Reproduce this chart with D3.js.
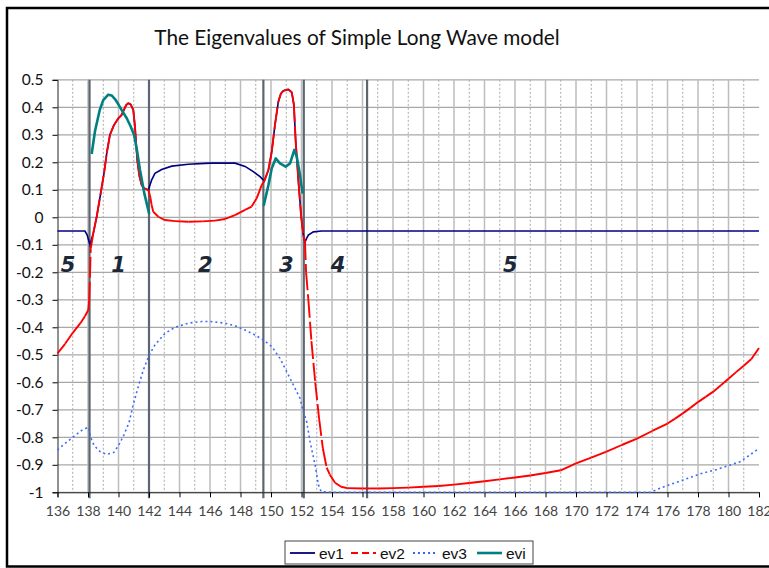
<!DOCTYPE html>
<html>
<head>
<meta charset="utf-8">
<script src="https://cdn.jsdelivr.net/npm/d3@7"></script>
<style>
  body { margin: 0; background: #fff; }
  .tick text { font-family: Lato, "DejaVu Sans", sans-serif; }
</style>
</head>
<body>
<div id="chart"></div>
<script>
// series: [time, eigenvalue]
var ev1 = [[136,-0.05],[137.8,-0.05],[137.95,-0.065],[138.05,-0.085],[138.13,-0.10],
  [138.35,-0.057],[138.57,0.002],[138.83,0.087],[139.05,0.16],[139.23,0.233],[139.44,0.30],[139.7,0.335],[139.99,0.36],[140.2,0.372],[140.5,0.408],[140.64,0.415],[140.8,0.411],[140.97,0.39],[141.08,0.33],[141.23,0.208],[141.37,0.15],[141.52,0.117],[141.7,0.105],[141.96,0.099],
  [142.08,0.12],[142.17,0.135],[142.39,0.16],[142.83,0.174],[143.49,0.186],[144.58,0.193],[146.02,0.197],[147.64,0.197],[148.3,0.185],[148.84,0.166],[149.28,0.148],[149.56,0.132],
  [149.83,0.172],[150.05,0.239],[150.26,0.336],[150.48,0.42],[150.65,0.45],[150.81,0.46],[151.14,0.465],[151.36,0.455],[151.5,0.41],[151.62,0.275],[151.8,0.13],[151.97,0.008],[152.12,-0.065],[152.23,-0.09],
  [152.35,-0.075],[152.45,-0.065],[152.78,-0.053],[153.32,-0.05],[182,-0.05]];

var ev2 = [[136,-0.495],[136.5,-0.46],[137,-0.42],[137.5,-0.385],[137.8,-0.36],[138.02,-0.337],[138.08,-0.3],[138.13,-0.21],[138.18,-0.113],
  [138.35,-0.057],[138.57,0.002],[138.83,0.087],[139.05,0.16],[139.23,0.233],[139.44,0.30],[139.7,0.335],[139.99,0.36],[140.2,0.372],[140.5,0.408],[140.64,0.415],[140.8,0.411],[140.97,0.39],[141.08,0.33],[141.23,0.208],[141.37,0.15],[141.52,0.117],[141.7,0.105],[141.96,0.099],
  [142.1,0.07],[142.17,0.045],[142.28,0.02],[142.61,0.002],[143.05,-0.01],[143.7,-0.014],[144.58,-0.016],[145.5,-0.015],[146.33,-0.012],[146.99,-0.006],[147.64,0.008],[148.3,0.027],[148.73,0.039],[149.06,0.069],[149.39,0.117],[149.56,0.132],
  [149.83,0.172],[150.05,0.239],[150.26,0.336],[150.48,0.42],[150.65,0.45],[150.81,0.46],[151.14,0.465],[151.36,0.455],[151.5,0.41],[151.62,0.275],[151.8,0.13],[151.97,0.008],[152.12,-0.065],[152.23,-0.09],
  [152.3,-0.2],[152.45,-0.3],[152.65,-0.45],[152.9,-0.6],[153.15,-0.73],[153.4,-0.84],[153.65,-0.91],[153.85,-0.935],[154.2,-0.965],[154.6,-0.98],
  [155,-0.985],[156,-0.986],[157,-0.986],[158,-0.985],[159,-0.983],[160,-0.98],[161,-0.977],[162,-0.972],[163,-0.966],[164,-0.96],[165,-0.953],[166,-0.946],[167,-0.939],[168,-0.93],[169,-0.92],[170,-0.895],[171,-0.874],[172,-0.852],[173,-0.828],[174,-0.805],[175,-0.777],[176,-0.75],[176.5,-0.732],[177,-0.713],[177.5,-0.693],[178,-0.672],[178.5,-0.653],[179,-0.634],[179.5,-0.611],[180,-0.587],[180.5,-0.563],[181,-0.54],[181.5,-0.515],[182,-0.475]];

var ev3 = [[136,-0.846],[136.5,-0.822],[137.04,-0.798],[137.58,-0.775],[138.02,-0.763],[138.2,-0.804],[138.4,-0.83],[138.79,-0.852],[139.2,-0.862],[139.7,-0.855],[140.05,-0.825],[140.35,-0.792],[140.7,-0.745],[140.97,-0.68],[141.3,-0.615],[141.63,-0.555],[142.02,-0.50],[142.39,-0.464],[143.05,-0.422],[143.7,-0.40],[144.58,-0.385],[145.45,-0.379],[146.02,-0.379],[146.99,-0.385],[147.64,-0.394],[148.3,-0.41],[148.95,-0.428],[149.5,-0.446],[150.05,-0.47],[150.59,-0.513],[151.03,-0.561],[151.47,-0.61],[151.9,-0.658],[152.12,-0.707],[152.34,-0.743],[152.56,-0.816],[152.89,-0.9],[153.11,-0.973],[153.28,-0.997],[154,-1.0],[174.85,-1.0],[176,-0.975],[177.04,-0.955],[178.13,-0.933],[179.23,-0.917],[180.75,-0.889],[181.41,-0.864],[182,-0.84]];

var eviA = [[138.24,0.23],[138.46,0.314],[138.77,0.39],[139.0,0.426],[139.33,0.446],[139.55,0.443],[139.77,0.43],[140.0,0.41],[140.21,0.39],[140.54,0.36],[140.8,0.33],[141.02,0.30],[141.19,0.251],[141.41,0.172],[141.7,0.085],[142.01,0.013]];
var eviB = [[149.52,0.042],[149.83,0.117],[150.05,0.178],[150.31,0.214],[150.59,0.196],[150.96,0.184],[151.25,0.196],[151.53,0.245],[151.69,0.22],[151.9,0.154],[152.07,0.086]];

var phaseX = [138.1, 142.0, 149.5, 152.15, 156.3];
var regionLabels = ["5", "1", "2", "3", "4", "5"];
var regionX = [136.7, 140.0, 145.7, 151.0, 154.4, 165.7];

var xTicks = d3.range(136, 183, 2);
var yTicks = d3.range(-10, 6).map(function(d) { return d / 10; });

var legendNames = ["ev1", "ev2", "ev3", "evi"];
var legendColors = ["#000080", "#ff0000", "#3366ff", "#008080"];

var W = 769, H = 568;
var svg = d3.select("#chart").append("svg")
    .attr("width", W)
    .attr("height", H);

var x = d3.scaleLinear().domain([136, 182]).range([57.5, 759]);
var y = d3.scaleLinear().domain([-1, 0.5]).range([492.3, 79.8]);

// outer frame
svg.append("path")
    .attr("d", "M780,8H7V566.5H780")
    .attr("fill", "none")
    .attr("stroke", "#000")
    .attr("stroke-width", 2.5);

svg.append("text")
    .attr("x", 357)
    .attr("y", 45)
    .attr("text-anchor", "middle")
    .style("font-family", "Lato, sans-serif")
    .style("font-size", "20.8px")
    .attr("fill", "#111")
    .text("The Eigenvalues of Simple Long Wave model");

// grid
svg.append("g").selectAll("line")
    .data(yTicks)
    .enter().append("line")
    .attr("x1", x(136)).attr("x2", x(182))
    .attr("y1", function(d) { return y(d); })
    .attr("y2", function(d) { return y(d); })
    .attr("stroke", "#a8a8a8")
    .attr("stroke-width", 1.2);

svg.append("g").selectAll("line")
    .data(d3.range(137, 182))
    .enter().append("line")
    .attr("x1", function(d) { return x(d); })
    .attr("x2", function(d) { return x(d); })
    .attr("y1", y(0.5)).attr("y2", y(-1))
    .attr("stroke", function(d) { return d % 2 === 0 ? "#bdbdbd" : "#a8a8a8"; })
    .attr("stroke-width", function(d) { return d % 2 === 0 ? 1.5 : 1; })
    .attr("stroke-dasharray", function(d) { return d % 2 === 0 ? null : "2,2"; });

// phase boundaries
svg.append("g").selectAll("line")
    .data(phaseX)
    .enter().append("line")
    .attr("x1", function(d) { return x(d); })
    .attr("x2", function(d) { return x(d); })
    .attr("y1", y(0.5)).attr("y2", y(-1) + 6)
    .attr("stroke", "#5b6670")
    .attr("stroke-width", 2.2);

// axes
svg.append("g")
    .attr("transform", "translate(" + x(136) + ",0)")
    .call(d3.axisLeft(y).tickValues(yTicks).tickSize(5).tickPadding(9)
        .tickFormat(function(d) { return Math.abs(d) < 1e-9 ? "0" : String(+d.toFixed(1)); }))
    .call(function(g) { g.select(".domain").attr("stroke", "#222"); })
    .selectAll("text")
    .style("font-size", "15.5px")
    .attr("fill", "#111");

svg.append("g")
    .attr("transform", "translate(0," + y(-1) + ")")
    .call(d3.axisBottom(x).tickValues(xTicks).tickSize(5).tickPadding(9)
        .tickFormat(d3.format("d")))
    .call(function(g) { g.select(".domain").attr("stroke", "#222"); })
    .selectAll("text")
    .style("font-size", "14px")
    .attr("fill", "#444");

var line = d3.line()
    .x(function(d) { return x(d[0]); })
    .y(function(d) { return y(d[1]); });

svg.append("path")
    .attr("d", line(ev1))
    .attr("fill", "none")
    .attr("stroke", "#000080")
    .attr("stroke-width", 1.6);

// ev2: dash restarts at every point, as the spreadsheet does
svg.append("g").selectAll("line")
    .data(d3.pairs(ev2))
    .enter().append("line")
    .attr("x1", function(d) { return x(d[0][0]); })
    .attr("y1", function(d) { return y(d[0][1]); })
    .attr("x2", function(d) { return x(d[1][0]); })
    .attr("y2", function(d) { return y(d[1][1]); })
    .attr("stroke", "#ff0000")
    .attr("stroke-width", 1.9)
    .attr("stroke-dasharray", "18,4");

svg.append("path")
    .attr("d", line(ev3))
    .attr("fill", "none")
    .attr("stroke", "#3d6bff")
    .attr("stroke-width", 1.6)
    .attr("stroke-dasharray", "2,3");

[eviA, eviB].forEach(function(s) {
    svg.append("path")
        .attr("d", line(s))
        .attr("fill", "none")
        .attr("stroke", "#008080")
        .attr("stroke-width", 2.6)
        .attr("stroke-linejoin", "round");
});

svg.append("g").selectAll("text")
    .data(regionLabels)
    .enter().append("text")
    .attr("x", function(d, i) { return x(regionX[i]); })
    .attr("y", y(-0.2))
    .attr("text-anchor", "middle")
    .style("font-family", "\"DejaVu Sans\", sans-serif")
    .style("font-weight", "bold")
    .style("font-style", "italic")
    .style("font-size", "21px")
    .attr("fill", "#1c2838")
    .text(function(d) { return d; });

// legend
var legend = svg.append("g").attr("transform", "translate(285,541)");
legend.append("rect")
    .attr("width", 248).attr("height", 23)
    .attr("fill", "#fff")
    .attr("stroke", "#444");

var legendX = [5, 66, 128, 192];
var item = legend.selectAll(".item")
    .data(legendNames)
    .enter().append("g")
    .attr("class", "item")
    .attr("transform", function(d, i) { return "translate(" + legendX[i] + ",0)"; });

item.append("line")
    .attr("x1", 0).attr("x2", 25)
    .attr("y1", 12).attr("y2", 12)
    .attr("stroke", function(d, i) { return legendColors[i]; })
    .attr("stroke-width", function(d, i) { return i === 3 ? 2.6 : 1.8; })
    .attr("stroke-dasharray", function(d, i) { return i === 1 ? "7,4" : (i === 2 ? "2,3" : null); });

item.append("text")
    .attr("x", 29)
    .attr("y", 17.5)
    .style("font-family", "\"Liberation Sans\", Arial, sans-serif")
    .style("font-size", "15.5px")
    .attr("fill", "#111")
    .text(function(d) { return d; });
</script>
</body>
</html>
